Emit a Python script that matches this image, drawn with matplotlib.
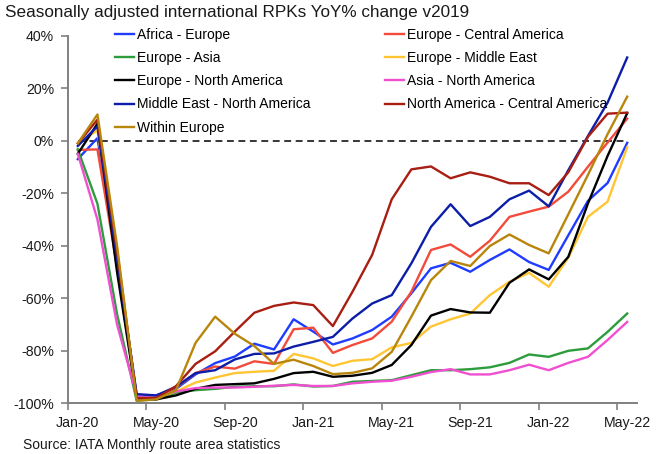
import matplotlib
matplotlib.use("Agg")
import matplotlib.pyplot as plt
import numpy as np

plt.rcParams['font.family'] = ['Liberation Sans', 'DejaVu Sans']

months = ["Jan-20", "Feb-20", "Mar-20", "Apr-20", "May-20", "Jun-20", "Jul-20", "Aug-20",
          "Sep-20", "Oct-20", "Nov-20", "Dec-20", "Jan-21", "Feb-21", "Mar-21", "Apr-21",
          "May-21", "Jun-21", "Jul-21", "Aug-21", "Sep-21", "Oct-21", "Nov-21", "Dec-21",
          "Jan-22", "Feb-22", "Mar-22", "Apr-22", "May-22"]

africa_europe = [-7, 1, -45, -97, -97, -94.5, -89, -84.7, -82.2, -77.3, -79.5, -68, -72.7, -77.6,
                 -75.3, -72.1, -67, -58.1, -48.6, -46.5, -49.9, -45.4, -41.4, -46.2, -49.2, -36,
                 -22.9, -16.1, -0.8]
europe_central_america = [-3.5, -3.3, -48, -98, -98, -94, -88.5, -86, -86.8, -84, -85, -71.8, -71.2,
                          -80.8, -77.8, -75.3, -68.9, -57.5, -41.6, -39.5, -44.2, -38.1, -29, -27,
                          -25.1, -19.4, -9.9, -0.7, 8.4]
europe_asia = [-3.3, -24, -66, -99, -98.5, -96, -95, -94.5, -93.7, -93.5, -93.5, -92.8, -93.6, -93.4,
               -91.8, -91.5, -91.2, -89.3, -87.4, -87.4, -87, -86.3, -84.6, -81.4, -82.3, -80,
               -79.1, -72.8, -65.8]
europe_middle_east = [-1, 4, -45, -98, -98, -95.5, -92.1, -90.2, -88.5, -88, -87.6, -81.2, -82.9,
                      -85.8, -83.8, -83.2, -78.7, -77, -70.8, -68, -65.8, -58.8, -53.7, -50.3,
                      -55.6, -44.5, -29, -23.2, -2.5]
europe_north_america = [-5, 6.5, -50, -98, -98.5, -97, -94.5, -93, -92.7, -92.4, -90.7, -88.5, -88,
                        -89.9, -89.5, -88.4, -85.4, -77.8, -66.6, -64.1, -65.4, -65.5, -54.1, -49,
                        -52.8, -44.2, -23.9, -5.8, 10.5]
asia_north_america = [-5, -30, -70, -97, -97, -95.5, -94.2, -94, -94, -93.7, -93.3, -93, -93.4,
                      -93.4, -92.4, -91.8, -91.4, -89.9, -88.1, -87, -89, -89, -87.4, -85.3, -87.4,
                      -84.6, -82.3, -75.9, -69]
middle_east_north_america = [-2, 5.5, -45, -96.5, -97, -93.7, -88.5, -87.4, -83.3, -81.2, -81,
                             -78.4, -76.6, -74.7, -67.7, -62, -58.8, -46.7, -32.8, -24.2, -32.5,
                             -29, -22.3, -19, -25, -11.2, 1.8, 14.5, 31.7]
north_america_central_america = [-1, 8, -42, -98, -98, -93.5, -85, -80.2, -72.7, -65.5, -62.9,
                                 -61.6, -62.6, -70.6, -57.5, -43.5, -22.3, -10.9, -9.8, -14.3,
                                 -12.05, -13.7, -16.2, -16.2, -20.7, -12, 1.5, 10.3, 10.7]
within_europe = [-1, 10, -40, -99, -98.5, -95, -77, -67, -73.5, -78.2, -85, -83.4, -85.8, -88.9,
                 -88.4, -86.7, -80.4, -67, -53.1, -45.8, -47.7, -40.1, -35.7, -39.7, -42.9, -28,
                 -13, 2.5, 16.8]

series = [
    ("Africa - Europe", africa_europe, "#1f3cff"),
    ("Europe - Central America", europe_central_america, "#f24b3c"),
    ("Europe - Asia", europe_asia, "#2c9c3c"),
    ("Europe - Middle East", europe_middle_east, "#ffc533"),
    ("Europe - North America", europe_north_america, "#000000"),
    ("Asia - North America", asia_north_america, "#f04fd0"),
    ("Middle East - North America", middle_east_north_america, "#0c1ea8"),
    ("North America - Central America", north_america_central_america, "#a81e12"),
    ("Within Europe", within_europe, "#b8860b"),
]

tick_labels = ["Jan-20", "May-20", "Sep-20", "Jan-21", "May-21", "Sep-21", "Jan-22", "May-22"]
y_ticks = [-100, -80, -60, -40, -20, 0, 20, 40]

W, H = 662, 454
fig = plt.figure(figsize=(W / 100, H / 100), dpi=100)
ax = fig.add_axes([68 / W, 1 - 403.3 / H, (637 - 68) / W, (403.3 - 35.7) / H])

x = np.arange(len(months))
ax.plot(x, np.zeros(len(months)), color="black", lw=1.1, ls=(0, (4.5, 3)), zorder=1)

handles = {}
for name, vals, col in series:
    (ln,) = ax.plot(x, vals, color=col, lw=1.7, label=name, zorder=2)
    handles[name] = ln

ax.set_xlim(-0.5, 28.5)
ax.set_ylim(-100, 40)

ax.set_yticks(y_ticks)
ax.set_yticklabels([f"{v}%" for v in y_ticks])
ax.set_xticks([months.index(m) for m in tick_labels])
ax.set_xticklabels(tick_labels)
ax.set_xticks(np.arange(-0.5, 28.6, 4), minor=True)

for s in ["top", "right"]:
    ax.spines[s].set_visible(False)
for s in ["left", "bottom"]:
    ax.spines[s].set_color("#808080")
    ax.spines[s].set_linewidth(1.4)

ax.tick_params(axis="y", length=5, width=1.2, color="#808080", pad=5, labelsize=10.2,
               labelcolor="#1a1a1a")
ax.tick_params(axis="x", which="major", length=0, pad=9, labelsize=10.2, labelcolor="#1a1a1a")
ax.tick_params(axis="x", which="minor", length=5, width=1.2, color="#808080")

col1 = ["Africa - Europe", "Europe - Asia", "Europe - North America",
        "Middle East - North America", "Within Europe"]
col2 = ["Europe - Central America", "Europe - Middle East", "Asia - North America",
        "North America - Central America"]

leg_kw = dict(frameon=False, fontsize=10, handlelength=1.4, handletextpad=0.2,
              labelspacing=0.67, borderpad=0, borderaxespad=0, loc="upper left")
leg1 = fig.legend([handles[n] for n in col1], col1,
                  bbox_to_anchor=(115 / W, 1 - 27.5 / H), **leg_kw)
leg2 = fig.legend([handles[n] for n in col2], col2,
                  bbox_to_anchor=(385 / W, 1 - 27.5 / H), **leg_kw)

fig.text(5 / W, 1 - 13 / H, "Seasonally adjusted international RPKs YoY% change v2019",
         fontsize=12.3, va="center", ha="left", color="#1a1a1a")
fig.text(23 / W, 1 - 445 / H, "Source: IATA Monthly route area statistics",
         fontsize=10, va="center", ha="left", color="#1a1a1a")

fig.savefig("out.png", dpi=100)
